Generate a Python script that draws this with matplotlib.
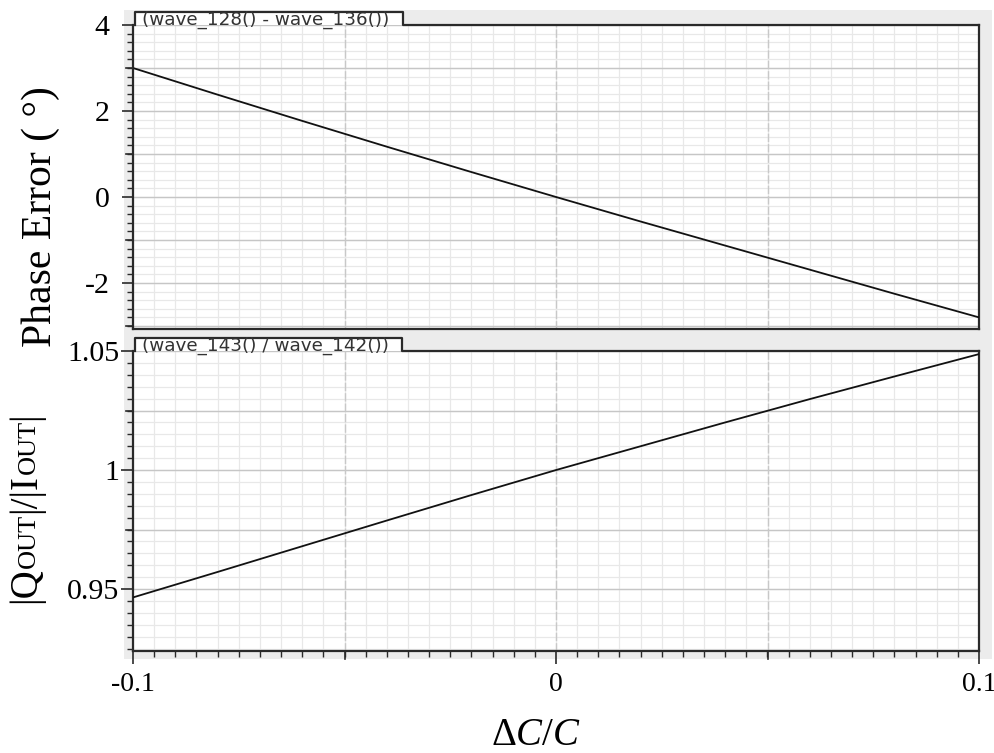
import numpy as np
import matplotlib
matplotlib.use("Agg")
import matplotlib.pyplot as plt
from matplotlib.patches import Rectangle
from matplotlib.lines import Line2D
from matplotlib.ticker import MultipleLocator, FixedLocator

# ---- data ----
dc = [-0.10, -0.08, -0.06, -0.04, -0.02, 0.00, 0.02, 0.04, 0.06, 0.08, 0.10]
phase_err = [3.00, 2.38, 1.77, 1.17, 0.58, 0.00, -0.57, -1.13, -1.69, -2.25, -2.80]
ratio = [0.9465, 0.9572, 0.9680, 0.9788, 0.9895, 1.0000, 1.0100, 1.0200, 1.0298, 1.0393, 1.0487]
top_title = "(wave_128() - wave_136())"
bot_title = "(wave_143() / wave_142())"
x_ticks = [-0.1, 0.0, 0.1]
x_tick_labels = ["-0.1", "0", "0.1"]
top_ticks = [4, 2, 0, -2]
top_tick_labels = ["4", "2", "0", "-2"]
bot_ticks = [1.05, 1.0, 0.95]
bot_tick_labels = ["1.05", "1", "0.95"]

W, H = 995, 753
fig = plt.figure(figsize=(W / 100, H / 100), dpi=100, facecolor="white")

def fx(x):
    return x / W

def fy(y):
    return 1 - y / H

serif = "Liberation Serif"
plt.rcParams["mathtext.fontset"] = "custom"
plt.rcParams["mathtext.rm"] = serif
plt.rcParams["mathtext.it"] = serif + ":italic"

# grey panel behind plots
fig.add_artist(Rectangle((fx(124), fy(659)), fx(992) - fx(124), fy(10) - fy(659),
                         transform=fig.transFigure, facecolor="#ececec",
                         edgecolor="none", zorder=-5))

L, R = 133, 979
ax1 = fig.add_axes([fx(L), fy(329), fx(R) - fx(L), fy(25) - fy(329)])
ax2 = fig.add_axes([fx(L), fy(651), fx(R) - fx(L), fy(351) - fy(651)])

spine_c = "#2a2a2a"
for ax in (ax1, ax2):
    ax.set_facecolor("white")
    ax.set_xlim(-0.1, 0.1)
    for s in ("left", "right", "bottom"):
        ax.spines[s].set_color(spine_c)
        ax.spines[s].set_linewidth(1.6)
    ax.spines["top"].set_visible(False)
    ax.xaxis.set_minor_locator(MultipleLocator(0.005))
    ax.set_axisbelow(True)

# top axes
ax1.plot(dc, phase_err, color="#111111", lw=1.3, zorder=3)
ax1.set_ylim(-3.07, 4.0)
ax1.yaxis.set_major_locator(FixedLocator(top_ticks))
ax1.set_yticklabels(top_tick_labels)
ax1.yaxis.set_minor_locator(MultipleLocator(0.2))
ax1.xaxis.set_major_locator(FixedLocator([-0.1, -0.05, 0, 0.05, 0.1]))
ax1.tick_params(axis="x", which="both", length=0, labelbottom=False)
ax1.tick_params(axis="y", which="major", length=8, width=1.2, color=spine_c,
                labelsize=21.5, pad=9)
ax1.tick_params(axis="y", which="minor", length=4, width=1.0, color=spine_c)
for lab in ax1.get_yticklabels():
    lab.set_fontfamily(serif)
for v in np.arange(-3, 4.01, 1):
    ax1.axhline(v, color="#c6c6c6", lw=1.0, zorder=1)
for v in np.arange(-3.0, 4.0, 0.2):
    ax1.axhline(v, color="#e8e8e8", lw=0.9, zorder=0.5)
ax1.grid(False)

# bottom axes
ax2.plot(dc, ratio, color="#111111", lw=1.3, zorder=3)
ax2.set_ylim(0.924, 1.05)
ax2.yaxis.set_major_locator(FixedLocator(bot_ticks))
ax2.set_yticklabels(bot_tick_labels)
ax2.yaxis.set_minor_locator(MultipleLocator(0.005))
ax2.xaxis.set_major_locator(FixedLocator(x_ticks))
ax2.set_xticklabels(x_tick_labels)
ax2.tick_params(axis="y", which="major", length=9, width=1.2, color=spine_c,
                labelsize=21.5, pad=1)
ax2.tick_params(axis="y", which="minor", length=4, width=1.0, color=spine_c)
ax2.tick_params(axis="x", which="major", length=9, width=1.2, color=spine_c,
                labelsize=20, pad=6)
ax2.tick_params(axis="x", which="minor", length=4, width=1.0, color=spine_c)
for lab in ax2.get_yticklabels() + ax2.get_xticklabels():
    lab.set_fontfamily(serif)
xl = ax2.get_xticklabels()
xl[-1].set_horizontalalignment("center")
for v in [0.95, 0.975, 1.0, 1.025, 1.05]:
    ax2.axhline(v, color="#c6c6c6", lw=1.0, zorder=1)
for v in np.arange(0.925, 1.05, 0.005):
    ax2.axhline(v, color="#e8e8e8", lw=0.9, zorder=0.5)
for ax, vals in ((ax1, [3, 1, -1, -3]), (ax2, [1.025, 0.975])):
    for v in vals:
        ax.plot([0, -0.008], [v, v], transform=ax.get_yaxis_transform(),
                color=spine_c, lw=1.2, clip_on=False, zorder=4)
for v in [-0.05, 0.05]:
    ax2.plot([v, v], [0, -0.027], transform=ax2.get_xaxis_transform(),
             color=spine_c, lw=1.2, clip_on=False, zorder=4)

for ax in (ax1, ax2):
    for v in np.arange(-0.1, 0.1001, 0.005):
        ax.axvline(v, color="#e8e8e8", lw=0.9, zorder=0.5)
    for v in [-0.05, 0.0, 0.05]:
        ax.axvline(v, color="#c8c8c8", lw=1.0, ls=(0, (6, 1.5)), zorder=1)

def tab(y_top, y_ax, x1, x2, text):
    fig.add_artist(Rectangle((fx(x1), fy(y_ax)), fx(x2) - fx(x1), fy(y_top) - fy(y_ax),
                             transform=fig.transFigure, facecolor="white",
                             edgecolor="none", zorder=5))
    fig.add_artist(Line2D([fx(x1), fx(x1), fx(x2), fx(x2), fx(R)],
                          [fy(y_ax), fy(y_top), fy(y_top), fy(y_ax), fy(y_ax)],
                          transform=fig.transFigure, color=spine_c, lw=1.6, zorder=6))
    fig.text(fx(x1 + 7), fy((y_top + y_ax) / 2 + 1), text, ha="left", va="center",
             fontsize=13.2, family="DejaVu Sans", color="#333333", zorder=7)

tab(12, 25, 135, 403, top_title)
tab(338, 351, 135, 402, bot_title)

fig.text(fx(41), fy(217), "Phase Error ( °)", rotation=90, ha="center", va="center",
         fontsize=30, family=serif)

pieces = [("|Q", 28), ("OUT", 19), ("|/|I", 28), ("OUT", 19), ("|", 28)]
renderer = fig.canvas.get_renderer()
texts = []
total = 0
for s, fs in pieces:
    t = fig.text(fx(35), 0, s, rotation=90, rotation_mode="anchor", ha="left",
                 va="baseline", fontsize=fs, family=serif)
    h = t.get_window_extent(renderer).height
    texts.append((t, h))
    total += h
cur = (H - 508) - total / 2
for t, h in texts:
    t.set_position((fx(35), cur / H))
    cur += h

fig.text(fx(536), fy(745), r"$\Delta C/C$", ha="center", va="baseline", fontsize=28)

fig.savefig("out.png", dpi=100, facecolor="white")
